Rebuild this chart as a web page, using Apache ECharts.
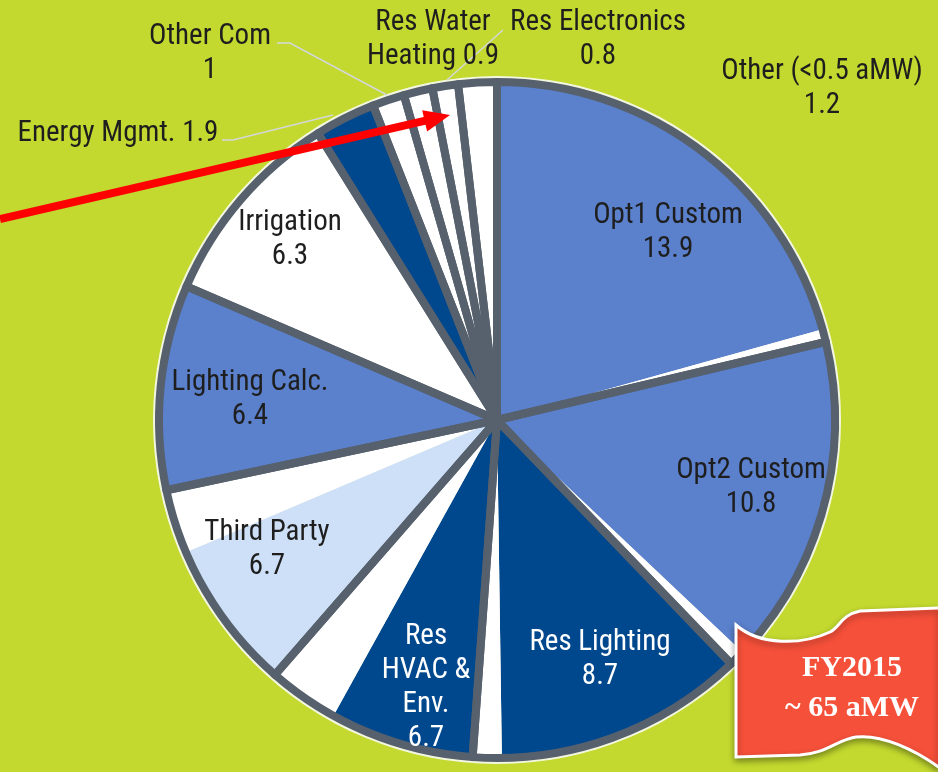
<!DOCTYPE html>
<html>
<head>
<meta charset="utf-8">
<script src="https://cdn.jsdelivr.net/npm/echarts@6/dist/echarts.min.js"></script>
<style>
  html, body { margin: 0; padding: 0; background: #c3d92f; }
  #chart { width: 938px; height: 772px; }
</style>
</head>
<body>
<div id="chart"></div>
<script>
// FY2015 savings by program, aMW
const categories = ['Opt1 Custom', 'Opt2 Custom', 'Res Lighting', 'Res\nHVAC &\nEnv.', 'Third Party',
  'Lighting Calc.', 'Irrigation', 'Energy Mgmt.', 'Other Com', 'Res Water\nHeating', 'Res Electronics', 'Other (<0.5 aMW)']
const values = [13.9, 10.8, 8.7, 6.7, 6.7, 6.4, 6.3, 1.9, 1, 0.9, 0.8, 1.2]
// white wedge drawn at the clockwise end of some slices, as in the picture
const whiteTail = [0.4, 0.5, 0.9, 2.2, 2.0, 0, 0, 0, 0, 0, 0, 0]

const MID = '#5b80cc'
const DARK = '#00488e'
const LIGHT = '#cee0f7'
const WHITE = '#ffffff'
const GRAY = '#56616d'
const sliceColors = [MID, MID, DARK, DARK, LIGHT, MID, WHITE, DARK, WHITE, WHITE, WHITE, WHITE]
const labelColors = ['#1e1e1e', '#1e1e1e', '#fff', '#fff', '#1e1e1e', '#1e1e1e', '#1e1e1e',
  '#1e1e1e', '#1e1e1e', '#1e1e1e', '#1e1e1e', '#1e1e1e']
const joiners = ['\n', '\n', '\n', '\n', '\n', '\n', '\n', ' ', '\n', ' ', '\n', '\n']

// label placement (centre of the text block) and leader lines
const labelPos = [[668, 233], [751, 488], [600, 660], [426, 688], [267, 550], [250, 400],
  [290, 240], [118, 134], [210, 54], [433, 40], [598, 40], [822, 89]]
const leaderLines = {
  7: [[333, 115], [233, 140], [222, 140]],
  8: [[387, 95], [290, 43], [277, 43]],
  9: [[447, 80], [475, 55], [503, 30]]
}

const CENTER = [497, 420]
const RADIUS = 338
const FONT = "'Roboto Condensed', Roboto, sans-serif"

const fillData = []
categories.forEach((name, i) => {
  fillData.push({ name, value: values[i] - whiteTail[i], itemStyle: { color: sliceColors[i] } })
  if (whiteTail[i] > 0) {
    fillData.push({ name: name + ' tail', value: whiteTail[i], itemStyle: { color: WHITE } })
  }
})

const borderData = categories.map((name, i) => ({
  name,
  value: values[i],
  label: { color: labelColors[i] },
  labelLine: { show: !!leaderLines[i] }
}))

// waving banner in the bottom right corner
const FlagShape = echarts.graphic.extendShape({
  shape: {},
  buildPath(ctx) {
    ctx.moveTo(736, 625)
    ctx.bezierCurveTo(760, 646, 802, 645, 830, 632)
    ctx.bezierCurveTo(840, 627, 841, 615, 860, 611)
    ctx.lineTo(940, 608)
    ctx.lineTo(940, 768)
    ctx.bezierCurveTo(915, 750, 882, 734, 856, 737)
    ctx.bezierCurveTo(836, 740, 828, 753, 800, 755)
    ctx.lineTo(736, 757)
    ctx.closePath()
  }
})
echarts.graphic.registerShape('flag', FlagShape)

const chart = echarts.init(document.getElementById('chart'))

// tip and tail of the red arrow
const arrowTail = [0, 219]
const arrowTip = [450, 115]
const dx = arrowTip[0] - arrowTail[0]
const dy = arrowTip[1] - arrowTail[1]
const len = Math.sqrt(dx * dx + dy * dy)
const ux = dx / len
const uy = dy / len
const headLen = 26
const headHalf = 11
const baseX = arrowTip[0] - ux * headLen
const baseY = arrowTip[1] - uy * headLen

chart.setOption({
  backgroundColor: '#c3d92f',
  animation: false,
  graphic: [
    {
      type: 'circle',
      z: 0,
      shape: { cx: CENTER[0], cy: CENTER[1], r: RADIUS + 6 },
      style: { fill: '#f4f7e0' }
    },
    {
      type: 'line',
      z: 100,
      shape: { x1: arrowTail[0], y1: arrowTail[1], x2: baseX + ux * 2, y2: baseY + uy * 2 },
      style: { stroke: '#ff0000', lineWidth: 8 }
    },
    {
      type: 'polygon',
      z: 100,
      shape: {
        points: [
          arrowTip,
          [baseX - uy * headHalf, baseY + ux * headHalf],
          [baseX + uy * headHalf, baseY - ux * headHalf]
        ]
      },
      style: { fill: '#ff0000' }
    },
    {
      type: 'flag',
      z: 100,
      shape: {},
      style: {
        fill: '#f5503a',
        stroke: '#ffffff',
        lineWidth: 3,
        shadowBlur: 6,
        shadowOffsetY: 3,
        shadowColor: 'rgba(0,0,0,0.35)'
      }
    },
    {
      type: 'text',
      z: 101,
      style: {
        x: 852, y: 688,
        text: 'FY2015\n~ 65 aMW',
        align: 'center',
        verticalAlign: 'middle',
        fill: '#ffffff',
        fontFamily: "'Liberation Serif', serif",
        fontWeight: 'bold',
        fontSize: 30,
        lineHeight: 40
      }
    }
  ],
  series: [
    {
      name: 'fill',
      type: 'pie',
      center: CENTER,
      radius: [0, RADIUS],
      startAngle: 90,
      clockwise: true,
      silent: true,
      label: { show: false },
      labelLine: { show: false },
      itemStyle: { borderWidth: 0 },
      data: fillData
    },
    {
      name: 'FY2015',
      type: 'pie',
      center: CENTER,
      radius: [0, RADIUS],
      startAngle: 90,
      clockwise: true,
      silent: true,
      avoidLabelOverlap: false,
      itemStyle: {
        color: 'rgba(0,0,0,0)',
        borderColor: GRAY,
        borderWidth: 8,
        borderJoin: 'round'
      },
      label: {
        show: true,
        position: 'outside',
        fontFamily: FONT,
        fontSize: 29,
        lineHeight: 34,
        align: 'center',
        formatter: (p) => p.name + joiners[p.dataIndex] + p.value
      },
      labelLine: {
        lineStyle: { color: '#d3d7d9', width: 1.5 }
      },
      labelLayout: (params) => {
        const i = params.dataIndex
        const out = {
          x: labelPos[i][0],
          y: labelPos[i][1],
          align: 'center',
          verticalAlign: 'middle'
        }
        if (leaderLines[i]) out.labelLinePoints = leaderLines[i]
        return out
      },
      data: borderData
    }
  ]
})
</script>
</body>
</html>
